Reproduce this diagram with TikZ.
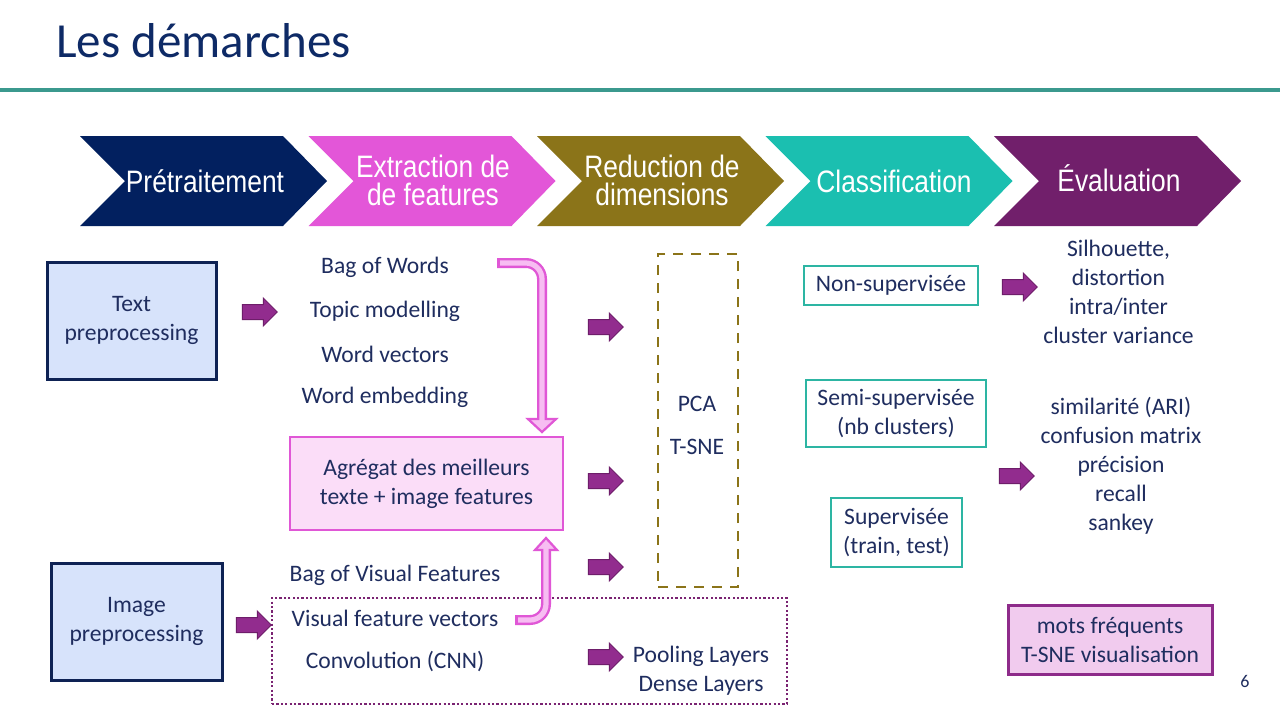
\documentclass[tikz,border=0pt]{standalone}
\usepackage{fontspec}
\setmainfont{Carlito}
\newfontfamily\chevfont[FakeStretch=0.85]{Liberation Sans}
\usetikzlibrary{shapes.arrows}
\definecolor{navy}{HTML}{1F2D5F}
\definecolor{titlec}{HTML}{0E2A66}
\definecolor{tealline}{HTML}{3B998E}
\definecolor{cnavy}{HTML}{02205F}
\definecolor{cmag}{HTML}{E356D8}
\definecolor{colive}{HTML}{8B7419}
\definecolor{cteal}{HTML}{1BBFB0}
\definecolor{cpurple}{HTML}{711F6B}
\definecolor{boxblue}{HTML}{D7E3FB}
\definecolor{boxborder}{HTML}{0E2254}
\definecolor{pinkfill}{HTML}{FBDDF8}
\definecolor{pinkborder}{HTML}{E057D6}
\definecolor{pinklight}{HTML}{F7BDF2}
\definecolor{arrowp}{HTML}{922C8E}
\definecolor{arrowd}{HTML}{6E1D6A}
\definecolor{tealbox}{HTML}{2DB5A3}
\definecolor{mauvefill}{HTML}{F1CBEE}
\definecolor{mauveborder}{HTML}{8E2B8A}
\definecolor{dotc}{HTML}{7A2372}
\begin{document}
\begin{tikzpicture}[x=0.5pt,y=-0.5pt,
  txt/.style={text=navy, font=\fontsize{11.8pt}{14.5pt}\selectfont, align=center, inner sep=0pt},
  chevtxt/.style={text=white, font=\chevfont\fontsize{15.5pt}{14pt}\selectfont, align=center, inner sep=0pt},
  bluebox/.style={draw=boxborder, fill=boxblue, line width=1.5pt, txt, inner sep=0pt},
  pinkbox/.style={draw=pinkborder, fill=pinkfill, line width=1.25pt, txt},
  tealframe/.style={draw=tealbox, fill=white, line width=1.4pt, txt},
  mauvebox/.style={draw=mauveborder, fill=mauvefill, line width=1.5pt, txt},
  blockarr/.style={single arrow, draw=arrowd, fill=arrowp, line width=0.5pt,
    minimum height=17.5pt, inner sep=3.5pt, single arrow head extend=3.25pt,
    single arrow head indent=0pt, anchor=center},
  pinkshaftout/.style={draw=pinkborder, line width=5pt, rounded corners=8pt},
  pinkshaftin/.style={draw=pinklight, line width=2.6pt, rounded corners=8pt},
  pinkhead/.style={fill=pinklight, draw=pinkborder, line width=1.1pt, line join=miter}
]
\useasboundingbox (0,0) rectangle (1280,720);
\fill[white] (0,0) rectangle (1280,720);

% title
\node[anchor=base west, inner sep=0pt, text=titlec, font=\fontsize{24.5pt}{28pt}\selectfont] (title) at (56,57) {Les démarches};
\draw[tealline, line width=2.4pt] (0,90) -- (1280,90);

% chevrons
\foreach \i/\col in {0/cnavy,1/cmag,2/colive,3/cteal,4/cpurple} {
  \pgfmathsetmacro\xo{80+228.5*\i}
  \fill[\col] (\xo,136) -- ++(203,0) -- ++(44,45) -- ++(-44,45) -- ++(-203,0) -- ++(45,-45) -- cycle;
}
\node[chevtxt] (c1) at (205,181) {Prétraitement};
\node[chevtxt] (c2) at (433,180) {Extraction de\\de features};
\node[chevtxt] (c3) at (662,180) {Reduction de\\dimensions};
\node[chevtxt] (c4) at (894,181) {Classification};
\node[chevtxt] (c5) at (1119,178) {Évaluation};

% left boxes
\node[bluebox, minimum width=84.5pt, minimum height=58.5pt] (textpre) at (131.5,320.5) {Text\\preprocessing};
\node[bluebox, minimum width=85.5pt, minimum height=58.5pt] (imgpre) at (136.5,621.5) {Image\\preprocessing};

% dotted frame and dashed frame
\node[draw=dotc, line width=0.9pt, dash pattern=on 1.1pt off 1.1pt, minimum width=257.5pt, minimum height=53pt, inner sep=0pt] (cnnframe) at (529.5,651) {};
\node[draw=colive, line width=1.4pt, dash pattern=on 5pt off 4pt, minimum width=40pt, minimum height=166.5pt, inner sep=0pt] (dimframe) at (698,420.5) {};

% feature lists
\node[txt] (bow) at (385,267) {Bag of Words};
\node[txt] (topic) at (385,311) {Topic modelling};
\node[txt] (wvec) at (385,354) {Word vectors};
\node[txt] (wemb) at (385,397) {Word embedding};
\node[pinkbox, minimum width=136.5pt, minimum height=46.5pt] (agg) at (426.5,483.5) {Agrégat des meilleurs\\texte + image features};
\node[txt] (bovf) at (395,575) {Bag of Visual Features};
\node[txt] (vfv) at (395,618) {Visual feature vectors};
\node[txt] (cnn) at (395,661) {Convolution (CNN)};
\node[txt] (pool) at (701,670.5) {Pooling Layers\\Dense Layers};

\node[txt] (pca) at (697,404) {PCA};
\node[txt] (tsne) at (697,447) {T-SNE};

% classification boxes
\node[tealframe, minimum width=87pt, minimum height=19.5pt] (nonsup) at (891,285.5) {Non-supervisée};
\node[tealframe, minimum width=90pt, minimum height=33.5pt] (semisup) at (896,413.5) {Semi-supervisée\\(nb clusters)};
\node[tealframe, minimum width=65.5pt, minimum height=34.5pt] (sup) at (896.5,532.5) {Supervisée\\(train, test)};

% evaluation texts
\node[txt] (eval1) at (1118.5,292) {Silhouette,\\distortion\\intra/inter\\cluster variance};
\node[txt] (eval2) at (1121,465.5) {similarité (ARI)\\confusion matrix\\précision\\recall\\sankey};
\node[mauvebox, minimum width=102pt, minimum height=34.5pt] (mots) at (1110,639.5) {mots fréquents\\T-SNE visualisation};

\node[inner sep=0pt, text=navy, font=\fontsize{9pt}{10pt}\selectfont] (pagenum) at (1245,681) {6};

% block arrows
\node[blockarr] (a1) at (256,312) {};
\node[blockarr] (a2) at (602,327) {};
\node[blockarr] (a3) at (602,481) {};
\node[blockarr] (a4) at (602,567) {};
\node[blockarr] (a5) at (250,625) {};
\node[blockarr] (a6) at (602,657) {};
\node[blockarr] (a7) at (1016,287) {};
\node[blockarr] (a8) at (1013,476) {};

% bent pink arrow down (Bag of Words -> Agregat)
\coordinate (bdstart) at (497,263);
\coordinate (bdcorner) at (542,263);
\coordinate (bdend) at (542,421);
\draw[pinkshaftout] (bdstart) -- (bdcorner) -- (bdend);
\fill[pinkhead] (528,419) -- (556,419) -- (542,432) -- cycle;
\draw[pinkshaftin] ([xshift=1.5pt]bdstart) -- (bdcorner) -- ([yshift=-1pt]bdend);

% bent pink arrow up (Visual feature vectors -> Agregat)
\coordinate (bustart) at (515,620);
\coordinate (bucorner) at (546,620);
\coordinate (buend) at (546,549);
\draw[pinkshaftout] (bustart) -- (bucorner) -- (buend);
\fill[pinkhead] (535,550) -- (557,550) -- (546,538) -- cycle;
\draw[pinkshaftin] ([xshift=1.5pt]bustart) -- (bucorner) -- ([yshift=1pt]buend);
\end{tikzpicture}
\end{document}
